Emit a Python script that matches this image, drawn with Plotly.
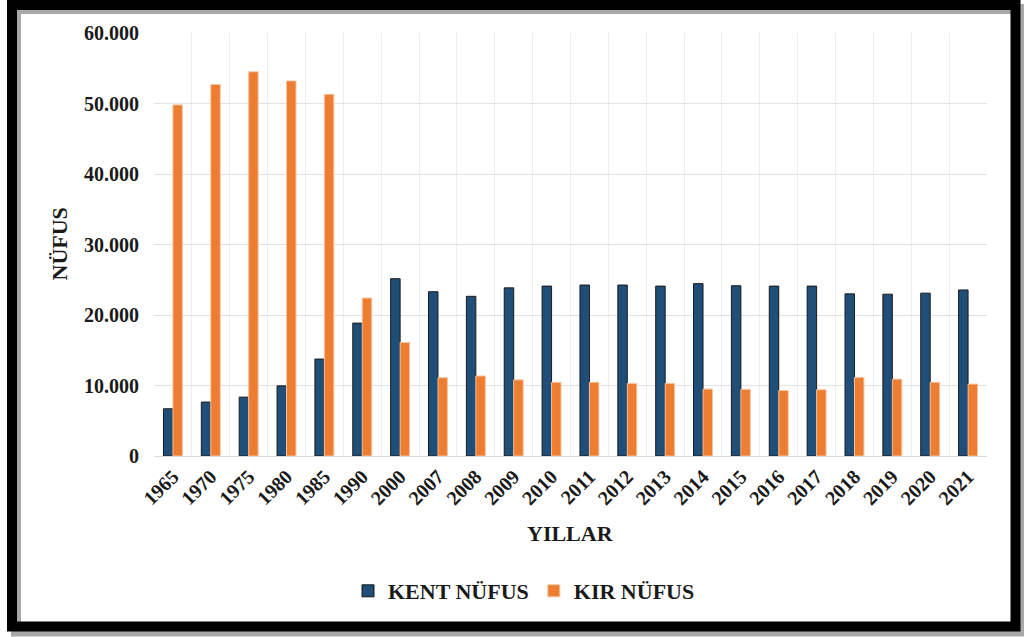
import plotly.graph_objects as go

years = ["1965", "1970", "1975", "1980", "1985", "1990", "2000", "2007", "2008", "2009",
         "2010", "2011", "2012", "2013", "2014", "2015", "2016", "2017", "2018", "2019",
         "2020", "2021"]
kent_nufus = [6700, 7650, 8350, 9950, 13750, 18850, 25150, 23300, 22650, 23850,
              24100, 24250, 24250, 24100, 24450, 24150, 24100, 24100, 23000, 22950,
              23100, 23550]
kir_nufus = [49800, 52700, 54500, 53200, 51300, 22400, 16100, 11100, 11350, 10800,
             10450, 10450, 10300, 10300, 9500, 9450, 9300, 9400, 11150, 10900,
             10450, 10200]
y_ticks = [0, 10000, 20000, 30000, 40000, 50000, 60000]

W, H = 1024, 637
L, R, T, B = 154, 987, 33, 456
FONT = "Liberation Serif, Times New Roman, serif"
TXT = "#1a1a1a"

def px(x):
    return (x - L) / (R - L)

def py(y):
    return (B - y) / (B - T)

fig = go.Figure()
fig.add_trace(go.Bar(
    name="KENT NÜFUS", x=years, y=kent_nufus,
    marker=dict(color="#1F4E79", line=dict(color="#1a1a1a", width=1)),
))
fig.add_trace(go.Bar(
    name="KIR NÜFUS", x=years, y=kir_nufus,
    marker=dict(color="#ED7D31", line=dict(color="#F6C3A0", width=1)),
))

fig.update_layout(
    width=W, height=H,
    margin=dict(l=L, r=W - R, t=T, b=H - B),
    paper_bgcolor="white", plot_bgcolor="white",
    separators=",.",
    barmode="group", bargap=0.5, bargroupgap=0,
    font=dict(family=FONT, color=TXT),
    showlegend=True,
    legend=dict(orientation="h", x=px(524), xanchor="center", y=py(591), yanchor="middle",
                font=dict(family=FONT, size=22, weight="bold", color=TXT),
                itemwidth=30, traceorder="normal"),
    xaxis=dict(type="category", tickson="boundaries", showgrid=True, gridcolor="#eeeeee",
               gridwidth=1, tickangle=-45, ticks="",
               tickfont=dict(family=FONT, size=20, weight="bold", color=TXT),
               showline=True, linecolor="#d9d9d9", linewidth=1, mirror=False),
    yaxis=dict(range=[0, 60000], tickvals=y_ticks, tickformat=",d", showgrid=True,
               gridcolor="#e2e2e2", gridwidth=1, zeroline=False, ticks="",
               ticklabelstandoff=14,
               tickfont=dict(family=FONT, size=20, weight="bold", color=TXT)),
    annotations=[
        dict(text="NÜFUS", xref="paper", yref="paper", x=px(59), y=0.5, textangle=-90,
             showarrow=False, xanchor="center", yanchor="middle",
             font=dict(family=FONT, size=22, weight="bold", color=TXT)),
        dict(text="YILLAR", xref="paper", yref="paper", x=0.5, y=py(533),
             showarrow=False, xanchor="center", yanchor="middle",
             font=dict(family=FONT, size=22, weight="bold", color=TXT)),
    ],
    shapes=[
        dict(type="rect", xref="paper", yref="paper", x0=px(16), x1=px(1019.5),
             y0=py(9), y1=py(631.5), line=dict(color="#a8a8a8", width=10), layer="above"),
        dict(type="rect", xref="paper", yref="paper", x0=px(12), x1=px(1015.5),
             y0=py(5), y1=py(626.5), line=dict(color="#000000", width=10), layer="above"),
    ],
)

fig.write_html(
    "out.html",
    config={"displayModeBar": False},
    post_script="document.body.style.margin='0';document.body.style.padding='0';"
                "document.body.style.overflow='hidden';",
)
